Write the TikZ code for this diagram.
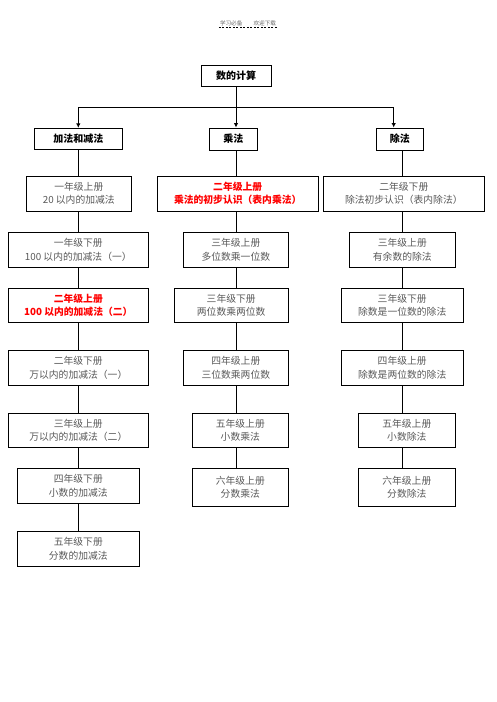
\documentclass[tikz,border=0pt]{standalone}
\usepackage{fontspec}
\setmainfont{Noto Sans CJK SC}
\usetikzlibrary{arrows.meta, positioning}
\tikzset{
  topic/.style={draw, line width=0.9pt, font=\fontsize{10}{12}\selectfont\bfseries, inner sep=0pt, minimum height=21pt},
  lesson/.style={draw, line width=0.9pt, align=center, inner sep=0pt, minimum height=35pt, text=black!65, font=\fontsize{9.8}{13.5}\selectfont},
  keylesson/.style={lesson, text=red, font=\fontsize{9.8}{13.5}\selectfont\bfseries},
  link/.style={line width=0.9pt},
  arr/.style={line width=0.9pt, -{Latex[length=4.5pt,width=4.5pt]}}
}

\begin{document}
\begin{tikzpicture}[x=1pt,y=-1pt]
            \useasboundingbox (0,0) rectangle (496,702);
            \draw (248,23) node[font=\fontsize{5.6}{6}\selectfont, text=black!60, inner sep=1pt] (head) {学习必备\qquad 欢迎下载};
            \draw[dash pattern=on 2pt off 1.5pt, line width=0.6pt] (head.south west) -- (head.south east);
            % top
            \draw (236,75.7) node[topic, minimum width=70pt] (calc) {数的计算};
            \draw (78.3,138.8) node[topic, minimum width=88pt] (add) {加法和减法};
            \draw (233.3,139) node[topic, minimum width=48pt, minimum height=22pt] (mul) {乘法};
            \draw (399.8,139) node[topic, minimum width=47pt, minimum height=22pt] (div) {除法};
            \coordinate (fork) at (236,107);
            \coordinate (colL) at (78.5,0);
            \coordinate (colM) at (236,0);
            \coordinate (colR) at (402,0);
            \coordinate (colD) at (393.7,0);
            % addition
            \draw (78.8,193.5) node[lesson, minimum width=105pt] (add1) {一年级上册\\20 以内的加减法};
            \draw (78.3,249.8) node[lesson, minimum width=140pt] (add2) {一年级下册\\100 以内的加减法（一）};
            \draw (78.3,305.3) node[keylesson, minimum width=140pt, minimum height=34pt] (add3) {二年级上册\\100 以内的加减法（二）};
            \draw (78.3,367.8) node[lesson, minimum width=140pt] (add4) {二年级下册\\万以内的加减法（一）};
            \draw (78.3,430.3) node[lesson, minimum width=140pt, minimum height=34pt] (add5) {三年级上册\\万以内的加减法（二）};
            \draw (78.3,485.8) node[lesson, minimum width=122pt] (add6) {四年级下册\\小数的加减法};
            \draw (78.3,548.8) node[lesson, minimum width=122pt] (add7) {五年级下册\\分数的加减法};
            % multiplication
            \draw (237.7,193.5) node[keylesson, minimum width=161pt] (mul1) {二年级上册\\乘法的初步认识（表内乘法）};
            \draw (235.8,249.8) node[lesson, minimum width=105pt] (mul2) {三年级上册\\多位数乘一位数};
            \draw (231.2,305.3) node[lesson, minimum width=114pt, minimum height=34pt] (mul3) {三年级下册\\两位数乘两位数};
            \draw (235.8,367.8) node[lesson, minimum width=105pt] (mul4) {四年级上册\\三位数乘两位数};
            \draw (240.3,430.3) node[lesson, minimum width=96pt, minimum height=34pt] (mul5) {五年级上册\\小数乘法};
            \draw (240.3,487.3) node[lesson, minimum width=96pt, minimum height=38pt] (mul6) {六年级上册\\分数乘法};
            % division
            \draw (403.8,193.5) node[lesson, minimum width=161pt] (div1) {二年级下册\\除法初步认识（表内除法）};
            \draw (402.3,249.8) node[lesson, minimum width=106pt] (div2) {三年级上册\\有余数的除法};
            \draw (402.2,305.3) node[lesson, minimum width=122pt, minimum height=34pt] (div3) {三年级下册\\除数是一位数的除法};
            \draw (402.2,367.8) node[lesson, minimum width=122pt] (div4) {四年级上册\\除数是两位数的除法};
            \draw (406.8,430.3) node[lesson, minimum width=97pt, minimum height=34pt] (div5) {五年级上册\\小数除法};
            \draw (406.8,487.3) node[lesson, minimum width=97pt, minimum height=38pt] (div6) {六年级上册\\分数除法};
            \draw[link] (calc) -- (fork);
            \draw[arr] (fork) -| (add.north);
            \draw[arr] (fork) -- (mul.north -| colM);
            \draw[arr] (fork) -| (div.north -| colD);
            \path[link]
            (add.south -| colL) edge (add1.north -| colL)
            (add1.south -| colL) edge (add2.north -| colL)
            (add2.south -| colL) edge (add3.north -| colL)
            (add3.south -| colL) edge (add4.north -| colL)
            (add4.south -| colL) edge (add5.north -| colL)
            (add5.south -| colL) edge (add6.north -| colL)
            (add6.south -| colL) edge (add7.north -| colL)
            (mul.south -| colM) edge (mul1.north -| colM)
            (mul1.south -| colM) edge (mul2.north -| colM)
            (mul2.south -| colM) edge (mul3.north -| colM)
            (mul3.south -| colM) edge (mul4.north -| colM)
            (mul4.south -| colM) edge (mul5.north -| colM)
            (mul5.south -| colM) edge (mul6.north -| colM)
            (div.south -| colR) edge (div1.north -| colR)
            (div1.south -| colR) edge (div2.north -| colR)
            (div2.south -| colR) edge (div3.north -| colR)
            (div3.south -| colR) edge (div4.north -| colR)
            (div4.south -| colR) edge (div5.north -| colR)
            (div5.south -| colR) edge (div6.north -| colR);
        \end{tikzpicture}
\end{document}
